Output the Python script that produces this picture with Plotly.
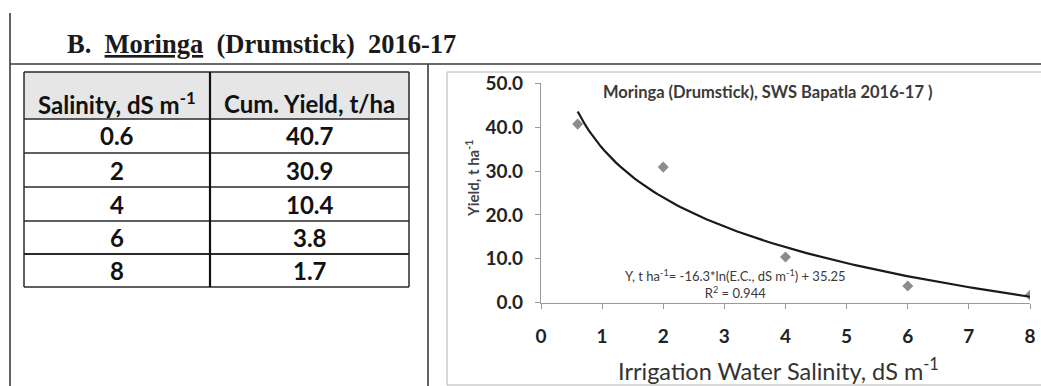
import numpy as np
import plotly.graph_objects as go

# Data: salinity of irrigation water vs cumulative yield
salinity = [0.6, 2, 4, 6, 8]
salinity_labels = ["0.6", "2", "4", "6", "8"]
yield_t_ha = [40.7, 30.9, 10.4, 3.8, 1.7]
yield_labels = ["40.7", "30.9", "10.4", "3.8", "1.7"]

# Logarithmic trend: Y = a*ln(EC) + b
trend_a = -16.3
trend_b = 35.25
r_squared = 0.944

x_ticks = [0, 1, 2, 3, 4, 5, 6, 7, 8]
y_ticks = [0, 10, 20, 30, 40, 50]

W, H = 1041, 386


def px(x):
    return x / W


def py(y):
    return 1 - y / H


fig = go.Figure()

fig.add_trace(go.Scatter(
    x=salinity, y=yield_t_ha, mode="markers",
    marker=dict(symbol="diamond", size=8.5, color="#8c8c8c"),
    showlegend=False, hoverinfo="x+y",
))

trend_x = np.linspace(min(salinity), max(salinity), 120)
trend_y = trend_a * np.log(trend_x) + trend_b
fig.add_trace(go.Scatter(
    x=trend_x, y=trend_y, mode="lines",
    line=dict(color="#1a1a1a", width=2.2),
    showlegend=False, hoverinfo="skip",
))

tick_font = dict(family="Lato", size=19, color="#222222", weight="bold")
fig.update_xaxes(
    domain=[px(541), px(1030)], range=[0, 8], tickvals=x_ticks,
    showline=True, linecolor="#9a9a9a", linewidth=1.2,
    ticks="outside", ticklen=5, tickcolor="#9a9a9a",
    showgrid=False, zeroline=False, tickfont=tick_font,
    ticklabelstandoff=11, automargin=False, fixedrange=True,
)
fig.update_yaxes(
    domain=[py(302.7), py(83.3)], range=[0, 50], tickvals=y_ticks,
    tickformat=".1f",
    showline=True, linecolor="#9a9a9a", linewidth=1.2,
    ticks="outside", ticklen=5, tickcolor="#9a9a9a",
    showgrid=False, zeroline=False, tickfont=tick_font,
    ticklabelstandoff=8, automargin=False, fixedrange=True,
)

shapes = []
annotations = []


def line(x0, y0, x1, y1, color="#333333", width=1.5):
    shapes.append(dict(type="line", xref="paper", yref="paper",
                       x0=px(x0), y0=py(y0), x1=px(x1), y1=py(y1),
                       line=dict(color=color, width=width), layer="above"))


# Page frame lines
line(10, 13, 10, 386, "#3a3a3a", 1.6)
line(10, 64, 1041, 64, "#3a3a3a", 1.6)
line(428, 64, 428, 386, "#3a3a3a", 1.6)

# Chart frame
shapes.append(dict(type="rect", xref="paper", yref="paper",
                   x0=px(447), y0=py(385), x1=px(1046), y1=py(72),
                   line=dict(color="#b5b5b5", width=1), fillcolor="rgba(0,0,0,0)",
                   layer="below"))

# Table
tab_l, tab_m, tab_r = 24, 210, 409
head_top, head_bot = 72, 119
row_edges = [119, 153, 187, 221, 254, 287]
shapes.append(dict(type="rect", xref="paper", yref="paper",
                   x0=px(tab_l), y0=py(head_bot), x1=px(tab_r), y1=py(head_top),
                   fillcolor="#e6e6e6", line=dict(width=0), layer="below"))
line(tab_l, head_top, tab_r, head_top, "#2a2a2a", 1.5)
for i, ye in enumerate(row_edges):
    w = 2.2 if i == 4 else 1.5
    line(tab_l, ye, tab_r, ye, "#2a2a2a", w)
line(tab_l, head_top, tab_l, row_edges[-1], "#2a2a2a", 1.5)
line(tab_r, head_top, tab_r, row_edges[-1], "#2a2a2a", 1.5)
line(tab_m, head_top, tab_m, row_edges[-1], "#111111", 2.2)

cell_font = dict(family="Lato", size=24, color="#111111")
headers = ["<b>Salinity, dS m<sup>-1</sup></b>", "<b>Cum. Yield, t/ha</b>"]
col_centers = [(tab_l + tab_m) / 2, (tab_m + tab_r) / 2]
for cx, htxt in zip(col_centers, headers):
    annotations.append(dict(xref="paper", yref="paper", x=px(cx), y=py(103),
                            text=htxt, showarrow=False, font=cell_font,
                            xanchor="center", yanchor="middle"))
for i in range(len(salinity_labels)):
    yc = (row_edges[i] + row_edges[i + 1]) / 2
    for cx, txt in zip(col_centers, [salinity_labels[i], yield_labels[i]]):
        annotations.append(dict(xref="paper", yref="paper", x=px(cx), y=py(yc),
                                text="<b>" + txt + "</b>", showarrow=False,
                                font=cell_font, xanchor="center", yanchor="middle"))

# Section heading
annotations.append(dict(
    xref="paper", yref="paper", x=px(65), y=py(44),
    text="<b>B.\u00a0\u00a0<u>Moringa</u>\u00a0\u00a0(Drumstick)\u00a0\u00a02016-17</b>",
    showarrow=False, xanchor="left", yanchor="middle",
    font=dict(family="Liberation Serif", size=26.5, color="#1a1a1a")))

# Chart title
annotations.append(dict(
    xref="paper", yref="paper", x=px(768), y=py(92),
    text="<b>Moringa (Drumstick), SWS Bapatla 2016-17 )</b>",
    showarrow=False, xanchor="center", yanchor="middle",
    font=dict(family="Lato", size=16.5, color="#3a3a3a")))

# Axis titles
annotations.append(dict(
    xref="paper", yref="paper", x=px(778), y=py(369),
    text="Irrigation Water Salinity, dS m<sup>-1</sup>",
    showarrow=False, xanchor="center", yanchor="middle",
    font=dict(family="Lato", size=23.5, color="#333333")))
annotations.append(dict(
    xref="paper", yref="paper", x=px(472), y=py(179),
    text="<b>Yield, t ha<sup>-1</sup></b>", textangle=-90,
    showarrow=False, xanchor="center", yanchor="middle",
    font=dict(family="Lato", size=15, color="#444444")))

# Trend equation
annotations.append(dict(
    xref="paper", yref="paper", x=px(735), y=py(284),
    text=("Y, t ha<sup>-1</sup>= %.1f*ln(E.C., dS m<sup>-1</sup>) + %.2f<br>"
          "R<sup>2</sup> = %.3f") % (trend_a, trend_b, r_squared),
    showarrow=False, xanchor="center", yanchor="middle",
    font=dict(family="Liberation Sans Narrow, Lato", size=13, color="#3a3a3a")))

fig.update_layout(
    width=W, height=H,
    margin=dict(l=0, r=0, t=0, b=0),
    paper_bgcolor="white", plot_bgcolor="white",
    shapes=shapes, annotations=annotations,
    showlegend=False,
)

fig.write_html("out.html", config={"displayModeBar": False})
